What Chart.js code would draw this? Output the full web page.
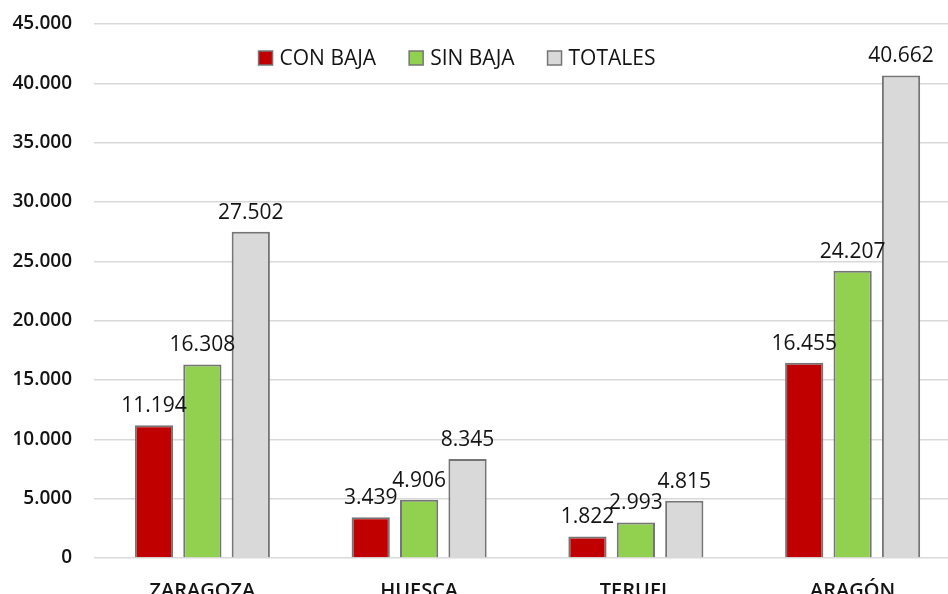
<!DOCTYPE html>
<html>
<head>
<meta charset="utf-8">
<script src="https://cdn.jsdelivr.net/npm/chart.js@4"></script>
<style>
  html, body { margin: 0; padding: 0; background: #fff; overflow: hidden; }
  #wrap { width: 961px; height: 594px; }
</style>
</head>
<body>
<div id="wrap"><canvas id="graph"></canvas></div>
<script>
const categories = ['ZARAGOZA', 'HUESCA', 'TERUEL', 'ARAGÓN'];
const conBaja = [11194, 3439, 1822, 16455];
const sinBaja = [16308, 4906, 2993, 24207];
const totales = [27502, 8345, 4815, 40662];
const seriesNames = ['CON BAJA', 'SIN BAJA', 'TOTALES'];
const seriesColors = ['#C00000', '#92D050', '#D9D9D9'];

function fmt(v) {
  return String(v).replace(/\B(?=(\d{3})+(?!\d))/g, '.');
}

// value labels above each bar
const valueLabels = {
  id: 'valueLabels',
  afterDatasetsDraw(chart) {
    const ctx = chart.ctx;
    ctx.save();
    ctx.font = '21px "Open Sans"';
    ctx.fillStyle = '#141414';
    ctx.textAlign = 'center';
    ctx.textBaseline = 'alphabetic';
    chart.data.datasets.forEach((ds, i) => {
      chart.getDatasetMeta(i).data.forEach((bar, j) => {
        ctx.fillText(fmt(ds.data[j]), bar.x, bar.y - 13);
      });
    });
    ctx.restore();
  }
};

// legend drawn inside the plot, centred near the top
const topLegend = {
  id: 'topLegend',
  afterDraw(chart) {
    const ctx = chart.ctx;
    ctx.save();
    ctx.font = '21px "Open Sans"';
    ctx.textBaseline = 'middle';
    const box = 14, gap = 7, spacing = 33, cy = 58;
    const widths = chart.data.datasets.map(ds => box + gap + ctx.measureText(ds.label).width);
    const total = widths.reduce((a, b) => a + b, 0) + spacing * (widths.length - 1);
    let x = 457 - total / 2;
    chart.data.datasets.forEach((ds, i) => {
      ctx.fillStyle = ds.backgroundColor;
      ctx.fillRect(x, cy - box / 2, box, box);
      ctx.strokeStyle = '#757575';
      ctx.lineWidth = 1.5;
      ctx.strokeRect(x, cy - box / 2, box, box);
      ctx.fillStyle = '#141414';
      ctx.fillText(ds.label, x + box + gap, cy + 1);
      x += widths[i] + spacing;
    });
    ctx.restore();
  }
};

new Chart(document.getElementById('graph'), {
  type: 'bar',
  data: {
    labels: categories,
    datasets: [
      { label: seriesNames[0], data: conBaja, backgroundColor: seriesColors[0] },
      { label: seriesNames[1], data: sinBaja, backgroundColor: seriesColors[1] },
      { label: seriesNames[2], data: totales, backgroundColor: seriesColors[2] }
    ].map(d => Object.assign(d, { borderColor: '#757575', borderWidth: 2, categoryPercentage: 0.67, barPercentage: 0.79 }))
  },
  options: {
    responsive: true,
    maintainAspectRatio: false,
    animation: false,
    layout: { padding: { top: 24, right: 0, left: 0, bottom: 0 } },
    scales: {
      x: {
        grid: { display: false },
        border: { display: false },
        afterFit(scale) { scale.height = 36; },
        ticks: { color: '#141414', font: { family: 'Open Sans', size: 20, weight: '600' }, padding: 13 }
      },
      y: {
        min: 0,
        max: 45000,
        grid: { color: '#d9d9d9', lineWidth: 1.5, drawTicks: false },
        border: { display: false },
        afterFit(scale) { scale.width = 94; scale.paddingTop = 0; scale.paddingBottom = 0; },
        ticks: {
          stepSize: 5000,
          padding: 22,
          color: '#141414',
          font: { family: 'Open Sans', size: 19, weight: '600' },
          callback: v => fmt(v)
        }
      }
    },
    plugins: {
      legend: { display: false },
      tooltip: { enabled: false }
    }
  },
  plugins: [valueLabels, topLegend]
});
</script>
</body>
</html>
